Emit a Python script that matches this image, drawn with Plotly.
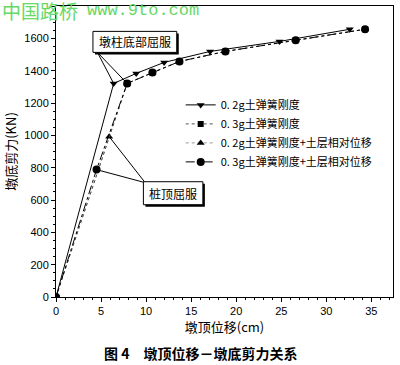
import plotly.graph_objects as go

# ---------------- data ----------------
s1_name = "0. 2g土弹簧刚度"
s1_x = [0, 6.4, 8.9, 12.0, 17.1, 24.8, 32.6]
s1_y = [0, 1321, 1383, 1451, 1519, 1581, 1656]

s2_name = "0. 3g土弹簧刚度"
s2_x = [0, 7.9, 10.7, 13.7, 18.8, 26.6, 34.3]
s2_y = [0, 1321, 1389, 1457, 1519, 1588, 1656]

s3_name = "0. 2g土弹簧刚度+土层相对位移"
s3_x = [0, 5.9, 7.9, 10.7, 13.7, 18.8, 26.6, 34.3]
s3_y = [0, 992, 1321, 1389, 1457, 1519, 1588, 1656]

s4_name = "0. 3g土弹簧刚度+土层相对位移"
s4_x = [0, 4.5, 7.9, 10.7, 13.7, 18.8, 26.6, 34.3]
s4_y = [0, 788, 1321, 1389, 1457, 1519, 1588, 1656]

x_title = "墩顶位移(cm)"
y_title = "墩底剪力(KN)"
caption = "图 4　墩顶位移－墩底剪力关系"
label_top = "墩柱底部屈服"
label_pile = "桩顶屈服"

CJK = "Noto Sans CJK SC"
LAT = "Liberation Sans"

fig = go.Figure()

# drawing order: S3, S2, S4, S1 (legend order set with legendrank)
fig.add_trace(go.Scatter(
    x=s3_x, y=s3_y, name=s3_name, mode="lines+markers", legendrank=3,
    line=dict(color="#999999", width=1, dash="dot"),
    marker=dict(symbol="triangle-up", size=7, color="black")))
fig.add_trace(go.Scatter(
    x=s2_x, y=s2_y, name=s2_name, mode="lines+markers", legendrank=2,
    line=dict(color="#555555", width=1, dash="dot"),
    marker=dict(symbol="square", size=6, color="black")))
fig.add_trace(go.Scatter(
    x=s4_x, y=s4_y, name=s4_name, mode="lines+markers", legendrank=4,
    line=dict(color="black", width=1, dash="dashdot"),
    marker=dict(symbol="circle", size=8, color="black")))
fig.add_trace(go.Scatter(
    x=s1_x, y=s1_y, name=s1_name, mode="lines+markers", legendrank=1,
    line=dict(color="black", width=1),
    marker=dict(symbol="triangle-down", size=7, color="black")))

# ---------- annotation boxes with shadow ----------
px_x = 9.0      # pixels per x unit
px_y = 0.16125  # pixels per y unit
def box(x0, x1, y0, y1, text):
    dx = 2 / px_x
    dy = 2 / px_y
    fig.add_shape(type="rect", x0=x0 + dx, x1=x1 + dx, y0=y0 - dy, y1=y1 - dy,
                  fillcolor="black", line=dict(width=0), layer="above")
    fig.add_shape(type="rect", x0=x0, x1=x1, y0=y0, y1=y1,
                  fillcolor="white", line=dict(color="black", width=1), layer="above")
    fig.add_annotation(x=(x0 + x1) / 2, y=(y0 + y1) / 2, text=text, showarrow=False,
                       font=dict(family=CJK, size=12, color="black"))

# leader lines
def leader(xa, ya, xb, yb):
    fig.add_shape(type="line", x0=xa, y0=ya, x1=xb, y1=yb,
                  line=dict(color="black", width=1), layer="above")

leader(4.6, 1513, s1_x[1], s1_y[1])
leader(4.6, 1513, s4_x[2], s4_y[2])
leader(9.9, 707, s3_x[1], s3_y[1])
leader(9.9, 707, s4_x[1], s4_y[1])

box(4.1, 13.4, 1513, 1643, label_top)
box(9.7, 16.3, 571, 713, label_pile)

# caption
fig.add_annotation(xref="paper", yref="paper", x=0.43, y=-0.193, text="<b>" + caption + "</b>",
                   showarrow=False, font=dict(family=CJK, size=14, color="black"),
                   xanchor="center", yanchor="middle")

# watermark
fig.add_annotation(xref="paper", yref="paper", x=-0.166, y=0.985, text="中国路桥",
                   showarrow=False, font=dict(family=CJK, size=19, color="#66d866"),
                   xanchor="left", yanchor="middle")
fig.add_annotation(xref="paper", yref="paper", x=0.086, y=0.985, text="www.9to.com",
                   showarrow=False, font=dict(family="Liberation Mono", size=17, color="#66d866"),
                   xanchor="left", yanchor="middle")

axis_common = dict(
    showline=True, linecolor="black", linewidth=1, mirror=True,
    ticks="outside", ticklen=4, tickcolor="black", tickwidth=1,
    showgrid=False, zeroline=False, automargin=False,
    tickfont=dict(family=LAT, size=11, color="black"),
    minor=dict(ticks="outside", ticklen=2, tickcolor="black"),
)

fig.update_xaxes(range=[0, 37.4], dtick=5, **axis_common,
                 title=dict(text=x_title, font=dict(family=CJK, size=13, color="black"), standoff=4))
fig.update_yaxes(range=[0, 1800], dtick=200, **axis_common,
                 title=dict(text=y_title, font=dict(family=CJK, size=13, color="black"), standoff=4))

fig.update_layout(
    width=400, height=365,
    margin=dict(l=56, r=7, t=6, b=68),
    paper_bgcolor="white", plot_bgcolor="white",
    showlegend=True,
    legend=dict(x=0.37, y=0.71, xanchor="left", yanchor="top",
                bgcolor="rgba(0,0,0,0)", borderwidth=0,
                font=dict(family=CJK, size=11, color="black"),
                itemwidth=30, tracegroupgap=0, traceorder="normal"),
)

fig.write_html("out.html", config={"displayModeBar": False},
               post_script="document.body.style.margin='0px';")
